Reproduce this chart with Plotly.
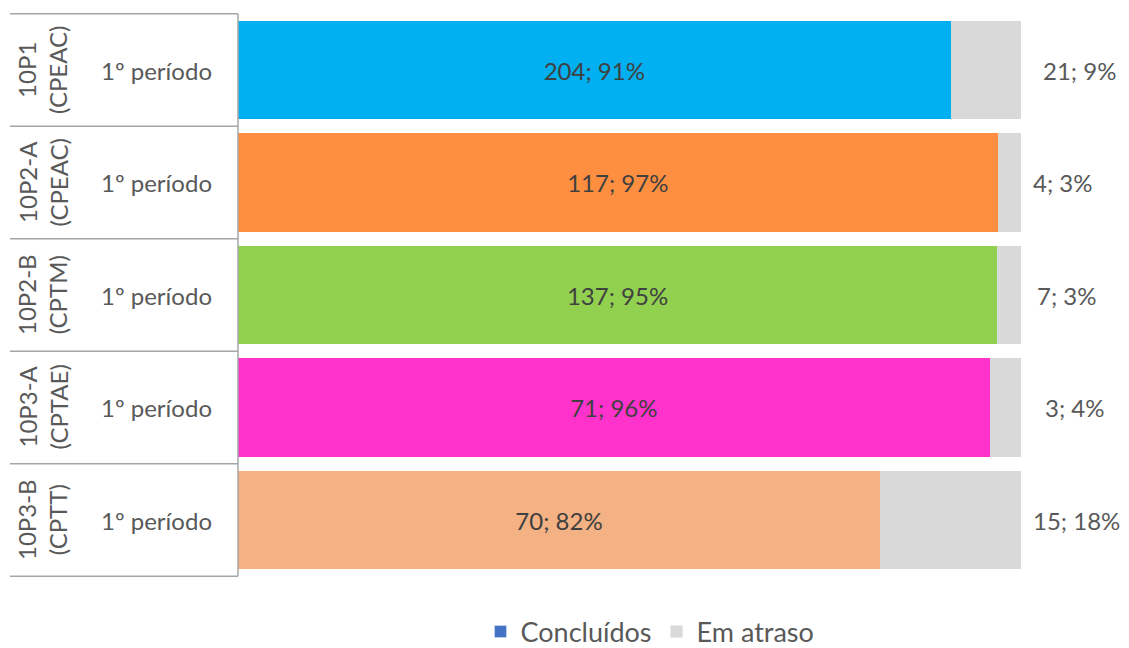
import plotly.graph_objects as go

turmas = ["10P1<br>(CPEAC)", "10P2-A<br>(CPEAC)", "10P2-B<br>(CPTM)", "10P3-A<br>(CPTAE)", "10P3-B<br>(CPTT)"]
periodos = ["1º período"] * 5
concluidos_n = [204, 117, 137, 71, 70]
concluidos_pct = [91, 97, 95, 96, 82]
atraso_n = [21, 4, 7, 3, 15]
atraso_pct = [9, 3, 3, 4, 18]
bar_colors = ["#00B0F0", "#FF8F40", "#92D050", "#FF33CC", "#F4B183"]

cats = [f"r{i}" for i in range(len(turmas))]
FONT = "Lato"
TXT = "#595959"

# page body has an 8px margin; compensate
OFF = 8
L, PW = 238 - OFF, 783
T, PH = 13 - OFF, 564

fig = go.Figure()
fig.add_trace(go.Bar(
    y=cats, x=concluidos_pct, orientation="h", name="Concluídos",
    marker=dict(color=bar_colors, line=dict(width=0)),
    text=[f"{n}; {p}%" for n, p in zip(concluidos_n, concluidos_pct)],
    textposition="inside", insidetextanchor="middle", textangle=0,
    textfont=dict(family=FONT, size=24, color="#404040"),
    showlegend=False, hoverinfo="skip",
))
fig.add_trace(go.Bar(
    y=cats, x=atraso_pct, orientation="h", name="Em atraso",
    marker=dict(color="#D9D9D9", line=dict(width=0)),
    showlegend=False, hoverinfo="skip",
))
# legend entries
fig.add_trace(go.Bar(y=[None], x=[None], orientation="h", name="Concluídos",
                     marker=dict(color="#4472C4")))
fig.add_trace(go.Bar(y=[None], x=[None], orientation="h", name="Em atraso",
                     marker=dict(color="#D9D9D9")))

shapes = []
x0 = (10 - 238) / PW
for i in range(len(cats) + 1):
    shapes.append(dict(type="line", xref="paper", yref="y", x0=x0, x1=0,
                       y0=i - 0.5, y1=i - 0.5, line=dict(color="#A6A6A6", width=1.5)))
shapes.append(dict(type="line", xref="paper", yref="y", x0=0, x1=0,
                   y0=-0.5, y1=len(cats) - 0.5, line=dict(color="#A6A6A6", width=1.5)))

right_x = [1079, 1063, 1067, 1075, 1076]
annotations = []
for c, t, p, n, pc, rx in zip(cats, turmas, periodos, atraso_n, atraso_pct, right_x):
    annotations.append(dict(xref="paper", yref="y", x=(42 - 238) / PW, y=c, text=t,
                            textangle=-90, showarrow=False, xanchor="center", yanchor="middle",
                            font=dict(family=FONT, size=24, color=TXT)))
    annotations.append(dict(xref="paper", yref="y", x=(156 - 238) / PW, y=c, text=p,
                            showarrow=False, xanchor="center", yanchor="middle",
                            font=dict(family=FONT, size=24, color=TXT)))
    annotations.append(dict(xref="paper", yref="y", x=(rx - 238) / PW, y=c, text=f"{n}; {pc}%",
                            showarrow=False, xanchor="center", yanchor="middle",
                            font=dict(family=FONT, size=24, color=TXT)))

fig.update_layout(
    width=1129 - OFF, height=648 - OFF,
    margin=dict(l=L, r=1129 - OFF - L - PW, t=T, b=648 - OFF - T - PH, autoexpand=False),
    barmode="stack", barnorm="percent", bargap=0.124,
    paper_bgcolor="white", plot_bgcolor="white",
    xaxis=dict(range=[0, 100], visible=False, fixedrange=True),
    yaxis=dict(categoryorder="array", categoryarray=cats, autorange="reversed",
               showticklabels=False, showgrid=False, zeroline=False, showline=False),
    shapes=shapes, annotations=annotations,
    legend=dict(orientation="h", x=(650 - 238) / PW, xanchor="center", y=-0.0975, yanchor="middle",
                font=dict(family=FONT, size=27, color=TXT), itemwidth=30, traceorder="normal",
                bgcolor="rgba(0,0,0,0)"),
    showlegend=True,
)
fig.write_html("out.html")
